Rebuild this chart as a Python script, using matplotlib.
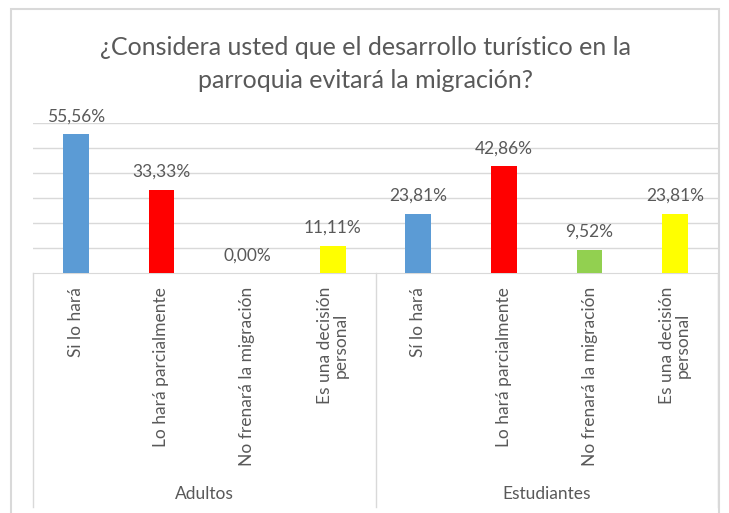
import numpy as np
import matplotlib
matplotlib.use("Agg")
import matplotlib.pyplot as plt
import matplotlib.transforms as mtrans
from matplotlib.patches import Rectangle

titulo = "¿Considera usted que el desarrollo turístico en la\nparroquia evitará la migración?"
grupos = ["Adultos", "Estudiantes"]
resp_adultos = ["Si lo hará", "Lo hará parcialmente", "No frenará la migración",
                "Es una decisión\npersonal"]
resp_estudiantes = ["Sí lo hará", "Lo hará parcialmente", "No frenará la migración",
                    "Es una decisión\npersonal"]
val_adultos = [55.56, 33.33, 0.00, 11.11]
val_estudiantes = [23.81, 42.86, 9.52, 23.81]
colores = ["#5B9BD5", "#FF0000", "#92D050", "#FFFF00"]

W, H = 729, 513
fig = plt.figure(figsize=(W / 100, H / 100), dpi=100)
plt.rcParams['font.family'] = ['Lato', 'DejaVu Sans']
gris = "#595959"
linea = "#D9D9D9"

# marco del grafico
fig.patches.append(Rectangle((11 / W, -0.05), (719 - 11) / W, 1.05 - 9 / H,
                             transform=fig.transFigure, fill=False,
                             edgecolor=linea, linewidth=1.5))

x0, x1, yb, yt = 33, 718, 273.3, 123.3
ax = fig.add_axes([x0 / W, 1 - yb / H, (x1 - x0) / W, (yb - yt) / H])

valores = val_adultos + val_estudiantes
etiquetas = resp_adultos + resp_estudiantes
cols = colores + colores
x = np.arange(len(valores))
ax.bar(x, valores, width=0.30, color=cols, zorder=3)
for xi, v in zip(x, valores):
    ax.text(xi, v + 4.0, ("%.2f%%" % v).replace(".", ","), ha="center", va="bottom",
            fontsize=12.5, color=gris)

ax.set_xlim(-0.5, len(valores) - 0.5)
ax.set_ylim(0, 60)
ax.set_yticks(np.arange(10, 61, 10))
ax.yaxis.grid(True, color=linea, linewidth=1)
ax.tick_params(left=False, labelleft=False, bottom=False, labelbottom=False)
for s in ["left", "right", "top"]:
    ax.spines[s].set_visible(False)
ax.spines["bottom"].set_color(linea)

tr = mtrans.blended_transform_factory(ax.transData, ax.transAxes)
px = 1.0 / (yb - yt)
for xi, lab in zip(x, etiquetas):
    ax.text(xi, -(287 - yb) * px, lab, rotation=90, ha="center", va="top",
            multialignment="center", fontsize=12.5, color=gris, transform=tr,
            linespacing=1.0)

for xv in [-0.5, 3.5, 7.5]:
    ax.plot([xv, xv], [0, -(507 - yb) * px], color=linea, linewidth=1,
            transform=tr, clip_on=False)

for i, g in enumerate(grupos):
    ax.text(1.5 + 4 * i, -(494 - yb) * px, g, ha="center", va="center",
            fontsize=12.5, color=gris, transform=tr)

fig.text(365 / W, 1 - 64 / H, titulo, ha="center", va="center", fontsize=18,
         color=gris, linespacing=1.55)

fig.savefig("out.png", dpi=100)
